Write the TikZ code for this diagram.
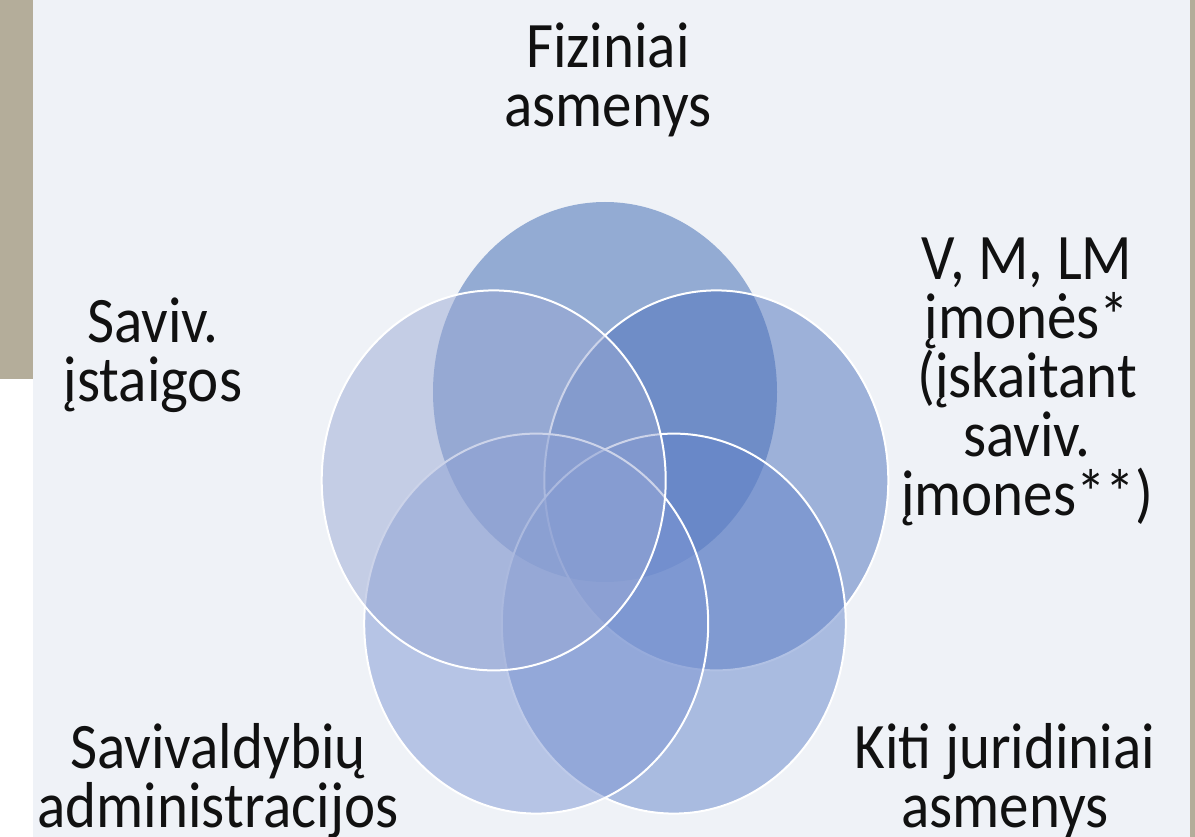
\documentclass[tikz,border=0pt]{standalone}
\usepackage{fontspec}
\setmainfont{Carlito}
\definecolor{bgc}{RGB}{239,242,247}
\definecolor{tanc}{RGB}{180,173,154}
\definecolor{cA}{RGB}{56,101,176}
\definecolor{cB}{RGB}{76,113,188}
\definecolor{cC}{RGB}{100,133,202}
\definecolor{cD}{RGB}{126,151,212}
\definecolor{cE}{RGB}{154,169,212}
\definecolor{txt}{RGB}{17,17,17}
\newcommand\lblfont{\fontsize{59}{53.6}\selectfont\lineskiplimit=-100pt\relax\lineskip=0pt\relax}
\begin{document}
\begin{tikzpicture}[x=1pt,y=-1pt,
  venn/.style={fill opacity=0.5, line width=2pt},
  lbl/.style={font=\lblfont, align=center, inner sep=0pt, text=txt}]
\useasboundingbox (0,0) rectangle (1195,837);
% background
\fill[bgc] (0,0) rectangle (1195,837);
\fill[tanc] (0,0) rectangle (33,379);
\fill[white] (0,379) rectangle (33,837);
\fill[tanc] (1190,0) rectangle (1195,837);
% circles (ellipses)
\path[venn, fill=cA] (605,392) ellipse [x radius=172pt, y radius=190pt];
\path[venn, fill=cB, draw=white] (716.3,480.4) ellipse [x radius=172pt, y radius=190pt];
\path[venn, fill=cC, draw=white] (673.8,623.6) ellipse [x radius=172pt, y radius=190pt];
\path[venn, fill=cD, draw=white] (536.2,623.6) ellipse [x radius=172pt, y radius=190pt];
\path[venn, fill=cE, draw=white] (493.7,480.4) ellipse [x radius=172pt, y radius=190pt];
% labels
\begin{scope}[yscale=1.1, transform shape]
\node[lbl] (fiz) at (608,72.7) {Fiziniai\\asmenys};
\node[lbl] (vml) at (1027,347.3) {V, M, LM\\įmonės*\\(įskaitant\\saviv.\\įmones**)};
\node[lbl] (sav) at (153,322.7) {Saviv.\\įstaigos};
\node[lbl] (adm) at (218,710) {Savivaldybių\\administracijos};
\node[lbl] (kit) at (1005,710) {Kiti juridiniai\\asmenys};
\end{scope}
\end{tikzpicture}
\end{document}
